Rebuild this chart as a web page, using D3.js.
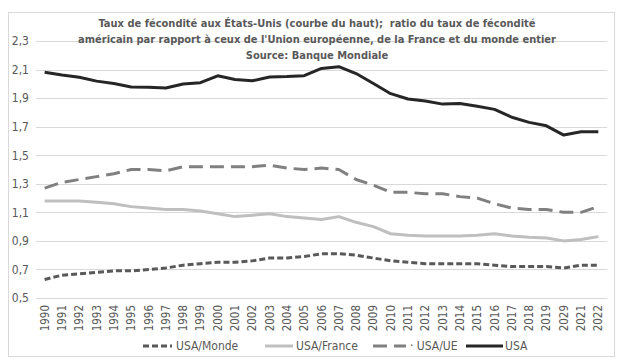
<!DOCTYPE html>
<html><head><meta charset="utf-8">
<script src="https://cdn.jsdelivr.net/npm/d3@7"></script>
<style>
body{margin:0;background:#fff;}
text{font-family:"DejaVu Sans Condensed","Liberation Sans Narrow",sans-serif;}
</style></head>
<body><svg id="c" width="623" height="364"></svg>
<script>
const years = ["1990","1991","1992","1993","1994","1995","1996","1997","1998","1999","2000","2001","2002","2003","2004","2005","2006","2007","2008","2009","2010","2011","2012","2013","2014","2015","2016","2017","2018","2019","2029","2021","2022"];
const usa = [2.081,2.062,2.046,2.019,2.002,1.978,1.976,1.971,1.999,2.008,2.056,2.030,2.021,2.048,2.051,2.057,2.108,2.120,2.072,2.002,1.931,1.894,1.880,1.858,1.862,1.843,1.821,1.766,1.730,1.706,1.641,1.664,1.665];
const usaUE = [1.27,1.31,1.33,1.35,1.37,1.40,1.40,1.39,1.42,1.42,1.42,1.42,1.42,1.43,1.41,1.40,1.41,1.40,1.33,1.29,1.24,1.24,1.23,1.23,1.21,1.20,1.16,1.13,1.12,1.12,1.10,1.10,1.14];
const usaFrance = [1.18,1.18,1.18,1.17,1.16,1.14,1.13,1.12,1.12,1.11,1.09,1.07,1.08,1.09,1.07,1.06,1.05,1.07,1.03,1.00,0.95,0.94,0.935,0.935,0.935,0.94,0.95,0.935,0.925,0.92,0.90,0.91,0.93];
const usaMonde = [0.63,0.66,0.67,0.68,0.69,0.69,0.70,0.71,0.73,0.74,0.75,0.75,0.76,0.78,0.78,0.79,0.81,0.81,0.80,0.78,0.76,0.75,0.74,0.74,0.74,0.74,0.73,0.72,0.72,0.72,0.71,0.73,0.73];
const yTicks = [0.5,0.7,0.9,1.1,1.3,1.5,1.7,1.9,2.1,2.3];
const titleLines = ["Taux de fécondité aux États-Unis (courbe du haut);  ratio du taux de fécondité","américain par rapport à ceux de l'Union européenne, de la France et du monde entier","Source: Banque Mondiale"];

const svg = d3.select("#c");
svg.append("rect").attr("x",8.5).attr("y",12.5).attr("width",606).attr("height",344)
  .attr("fill","#fff").attr("stroke","#d9d9d9");

const x = d3.scaleBand().domain(years).range([36,607]);
const y = d3.scaleLinear().domain([0.5,2.3]).range([298,41]);

svg.append("g").selectAll("line").data(yTicks).join("line")
  .attr("x1",36).attr("x2",607).attr("y1",d=>Math.round(y(d))+0.5).attr("y2",d=>Math.round(y(d))+0.5)
  .attr("stroke","#d9d9d9").attr("stroke-width",1);

const ya = svg.append("g").attr("transform","translate(29,0)")
  .call(d3.axisLeft(y).tickValues(yTicks).tickSize(0).tickPadding(0).tickFormat(d=>d3.format(".1f")(d).replace(".",",")));
ya.select(".domain").remove();
ya.selectAll("text").attr("fill","#595959").style("font-size","12px").attr("text-anchor","end");

const xa = svg.append("g").attr("transform","translate(0,298)")
  .call(d3.axisBottom(x).tickSize(0).tickPadding(0));
xa.select(".domain").remove();
xa.selectAll("text").attr("fill","#595959").style("font-size","11.5px")
  .attr("transform","rotate(-90)").attr("text-anchor","end").attr("x",-7).attr("y",0).attr("dy","0.35em");

svg.append("g").selectAll("text").data(titleLines).join("text")
  .attr("x",317).attr("y",(d,i)=>26.5+i*16).attr("text-anchor","middle")
  .attr("fill","#595959").style("font-weight","bold").style("font-size","11px")
  .style("white-space","pre").text(d=>d);

const series = [
  {name:"USA/Monde", vals:usaMonde, color:"#595959", dash:"6,3"},
  {name:"USA/France", vals:usaFrance, color:"#bfbfbf", dash:null},
  {name:"USA/UE", vals:usaUE, color:"#808080", dash:"14,7"},
  {name:"USA", vals:usa, color:"#262626", dash:null}
];
const line = d3.line().x((d,i)=>x(years[i])+x.bandwidth()/2).y(d=>y(d));
series.forEach(s=>{
  svg.append("path").datum(s.vals).attr("d",line).attr("fill","none")
    .attr("stroke",s.color).attr("stroke-width",3).attr("stroke-linejoin","round")
    .attr("stroke-dasharray",s.dash);
});

const leg = [{x1:143,x2:172,tx:176},{x1:265,x2:293,tx:296},{x1:373,x2:406,tx:410},{x1:466,x2:503,tx:505}];
series.forEach((s,i)=>{
  const L = leg[i];
  svg.append("line").attr("x1",L.x1).attr("x2",L.x2).attr("y1",346).attr("y2",346)
    .attr("stroke",s.color).attr("stroke-width",3).attr("stroke-dasharray",s.dash);
  svg.append("text").attr("x",L.tx).attr("y",346).attr("dy","0.35em").attr("fill","#595959")
    .style("font-size","12px").style("white-space","pre").text((i===2?"· ":"")+s.name);
});
</script></body></html>
